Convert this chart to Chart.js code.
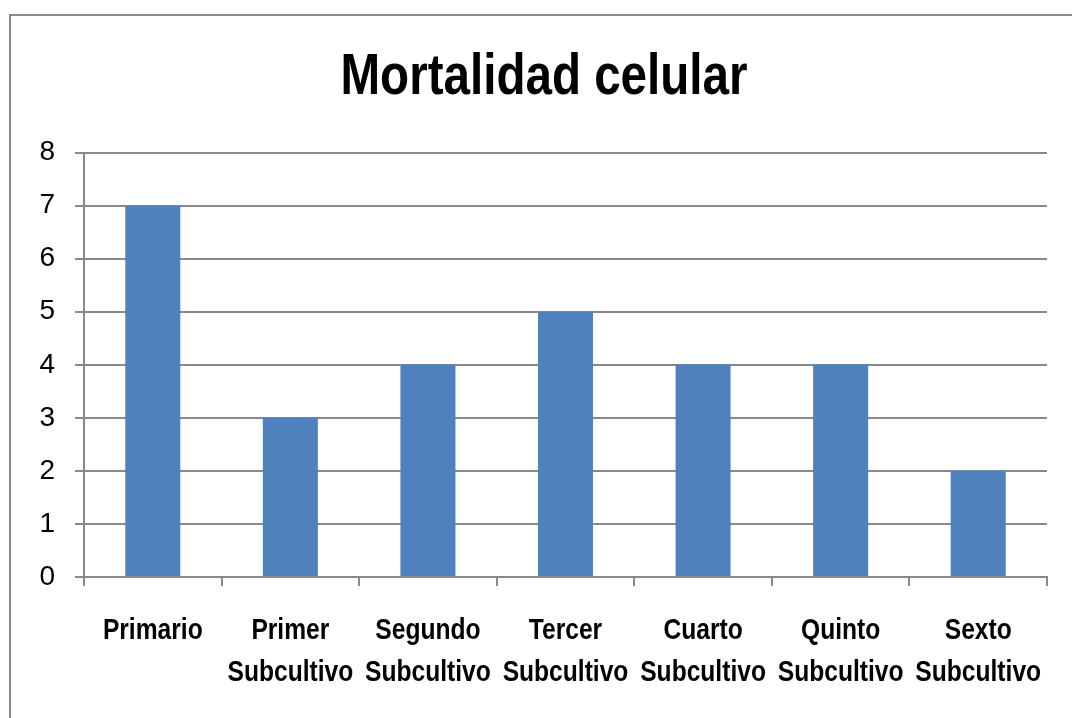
<!DOCTYPE html>
<html>
<head>
<meta charset="utf-8">
<script src="https://cdn.jsdelivr.net/npm/chart.js@4/dist/chart.umd.min.js"></script>
<style>
  html, body {
    margin: 0;
    padding: 0;
    background: #ffffff;
    overflow: hidden;
  }

  #frame {
    position: absolute;
    left: 9px;
    top: 14px;
    width: 1200px;
    height: 800px;
    border-left: 2px solid #8a8a8a;
    border-top: 2px solid #8a8a8a;
  }

  #wrap {
    position: absolute;
    left: 0;
    top: 0;
    width: 1072px;
    height: 718px;
  }
</style>
</head>
<body>
<div id="frame"></div>
<div id="wrap">
  <canvas id="mortalityChart"></canvas>
</div>

<script>
// ======================================
// Datos
// ======================================

const chartTitle = "Mortalidad celular";

const stageLabels = [
  "Primario",
  ["Primer", "Subcultivo"],
  ["Segundo", "Subcultivo"],
  ["Tercer", "Subcultivo"],
  ["Cuarto", "Subcultivo"],
  ["Quinto", "Subcultivo"],
  ["Sexto", "Subcultivo"]
];

const mortalityValues = [7, 3, 4, 5, 4, 4, 2];

const yTicks = [0, 1, 2, 3, 4, 5, 6, 7, 8];


// ======================================
// Estilos
// ======================================

const barColor = "#4F81BD";
const lineColor = "#898989";
const textFont = "'Liberation Sans', Arial, sans-serif";

// no hay Arial Narrow: el texto en negrita se comprime a lo ancho
const narrowScale = 0.82;


// ======================================
// Texto estrecho (negrita)
// ======================================

const ctx = document.getElementById("mortalityChart");
const ctx2d = ctx.getContext("2d");
const plainFillText = ctx2d.fillText;

ctx2d.fillText = function (text, x, y, maxWidth) {
  if (this.font.indexOf("bold") === -1) {
    return plainFillText.call(this, text, x, y, maxWidth);
  }

  this.save();
  this.translate(x, y);
  this.scale(narrowScale, 1);
  plainFillText.call(this, text, 0, 0);
  this.restore();
};


// ======================================
// Gráfico
// ======================================

new Chart(ctx, {
  type: "bar",
  data: {
    labels: stageLabels,
    datasets: [
      {
        label: chartTitle,
        data: mortalityValues,
        backgroundColor: barColor,
        borderWidth: 0,
        barPercentage: 0.4,
        categoryPercentage: 1
      }
    ]
  },
  options: {
    responsive: true,
    maintainAspectRatio: false,
    animation: false,
    layout: {
      padding: {
        left: 16,
        right: 0,
        top: 0,
        bottom: 0
      }
    },
    plugins: {
      legend: {
        display: false
      },
      tooltip: {
        enabled: false
      },
      title: {
        display: true,
        text: chartTitle,
        color: "#000000",
        font: {
          family: textFont,
          size: 58,
          weight: "bold",
          lineHeight: 1.2
        },
        padding: {
          top: 43,
          bottom: 40
        }
      }
    },
    scales: {
      x: {
        offset: true,
        grid: {
          offset: true,
          drawOnChartArea: false,
          drawTicks: true,
          tickLength: 9,
          color: lineColor,
          lineWidth: 2
        },
        border: {
          color: lineColor,
          width: 2
        },
        ticks: {
          color: "#000000",
          padding: 24,
          maxRotation: 0,
          autoSkip: false,
          font: {
            family: textFont,
            size: 30,
            weight: "bold",
            lineHeight: 1.4
          }
        },
        afterFit: (scale) => {
          scale.height = 141;
          scale.paddingLeft = 0;
          scale.paddingRight = 0;
        }
      },
      y: {
        min: 0,
        max: 8,
        grid: {
          color: lineColor,
          lineWidth: 2,
          tickLength: 9
        },
        border: {
          color: lineColor,
          width: 2
        },
        ticks: {
          color: "#000000",
          padding: 20,
          stepSize: 1,
          font: {
            family: textFont,
            size: 28
          }
        },
        afterBuildTicks: (scale) => {
          scale.ticks = yTicks.map((v) => ({ value: v }));
        },
        afterFit: (scale) => {
          scale.width = 68;
        }
      },
      yRight: {
        position: "right",
        display: true,
        grid: {
          display: false
        },
        border: {
          display: false
        },
        ticks: {
          display: false
        },
        afterFit: (scale) => {
          scale.width = 25;
        }
      }
    }
  }
});
</script>
</body>
</html>
